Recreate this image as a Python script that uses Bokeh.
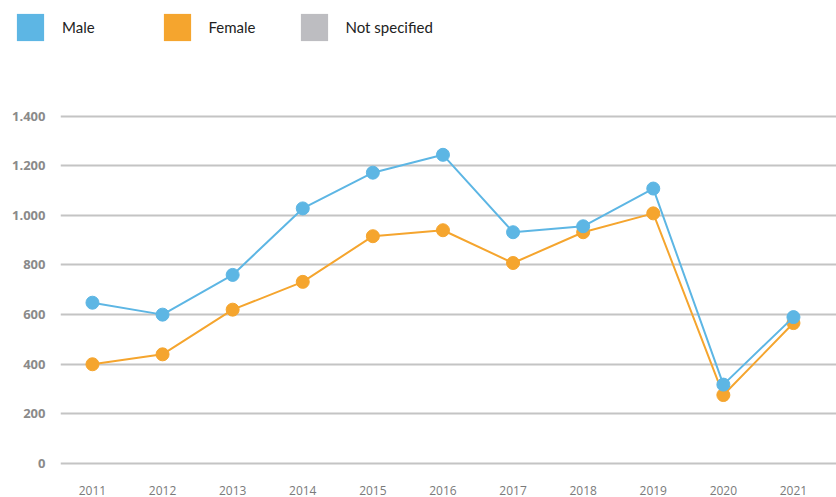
from bokeh.plotting import figure
from bokeh.models import Range1d, FixedTicker, Legend, LegendItem, ColumnDataSource
from bokeh.layouts import column
from bokeh.embed import file_html
from bokeh.resources import INLINE

years = [2011, 2012, 2013, 2014, 2015, 2016, 2017, 2018, 2019, 2020, 2021]
male = [648, 600, 760, 1028, 1172, 1244, 932, 956, 1108, 318, 590]
female = [400, 440, 620, 732, 916, 940, 808, 932, 1008, 276, 566]
y_ticks = [0, 200, 400, 600, 800, 1000, 1200, 1400]
y_tick_labels = ["0", "200", "400", "600", "800", "1.000", "1.200", "1.400"]
x_tick_labels = [str(y) for y in years]
series_names = ["Male", "Female", "Not specified"]

MALE_C = "#5db6e4"
FEMALE_C = "#f5a52e"
NS_C = "#bdbdc1"

# ---- legend strip ----
lf = figure(width=836, height=60, output_backend="svg", toolbar_location=None,
            x_range=Range1d(0, 1), y_range=Range1d(0, 1),
            x_axis_location=None, y_axis_location=None,
            min_border_left=0, min_border_right=0, min_border_top=0, min_border_bottom=0)
lf.frame_align = False
lf.grid.visible = False
lf.outline_line_color = None
lf.background_fill_color = "white"
lf.border_fill_color = "white"

swatches = []
for c in [MALE_C, FEMALE_C, NS_C]:
    r = lf.rect(x=[0], y=[0], width=0, height=0, fill_color=c, line_color=None)
    swatches.append(r)

legend_x = [13, 159.5, 296.5]
for name, r, lx in zip(series_names, swatches, legend_x):
    lg = Legend(items=[LegendItem(label=name, renderers=[r])], location=(lx, 16.5),
                orientation="horizontal", padding=0, margin=0, spacing=0,
                glyph_width=34, glyph_height=34, label_standoff=15,
                label_text_font="Lato", label_text_font_size="15px",
                label_text_baseline="alphabetic",
                label_text_color="#222222", border_line_color=None,
                background_fill_alpha=0)
    lf.add_layout(lg, "center")

# ---- main chart ----
p = figure(width=836, height=437, output_backend="svg", toolbar_location=None,
           x_range=Range1d(2010.544, 2021.614), y_range=Range1d(-16, 1624),
           min_border_left=60, min_border_right=0, min_border_top=0, min_border_bottom=27)
p.frame_align = False
p.outline_line_color = None
p.background_fill_color = "white"
p.border_fill_color = "white"

p.xgrid.visible = False
p.ygrid.ticker = FixedTicker(ticks=y_ticks)
p.ygrid.grid_line_color = "#c4c4c4"
p.ygrid.grid_line_width = 2

p.yaxis.ticker = FixedTicker(ticks=y_ticks)
p.yaxis.major_label_overrides = {t: l for t, l in zip(y_ticks, y_tick_labels)}
p.yaxis.axis_line_color = None
p.yaxis.major_tick_line_color = None
p.yaxis.minor_tick_line_color = None
p.yaxis.major_label_standoff = 9
p.yaxis.major_label_text_font = "Open Sans"
p.yaxis.major_label_text_font_style = "bold"
p.yaxis.major_label_text_font_size = "13px"
p.yaxis.major_label_text_color = "#8a8a8a"

p.xaxis.ticker = FixedTicker(ticks=years)
p.xaxis.major_label_overrides = {y: l for y, l in zip(years, x_tick_labels)}
p.xaxis.axis_line_color = None
p.xaxis.major_tick_line_color = None
p.xaxis.minor_tick_line_color = None
p.xaxis.major_label_standoff = 12
p.xaxis.major_label_text_font = "Open Sans"
p.xaxis.major_label_text_font_size = "12px"
p.xaxis.major_label_text_color = "#7a7a7a"

src = ColumnDataSource(dict(x=years, male=male, female=female))
p.line("x", "female", source=src, line_color=FEMALE_C, line_width=2)
p.scatter("x", "female", source=src, size=13, fill_color=FEMALE_C, line_color=FEMALE_C)
p.line("x", "male", source=src, line_color=MALE_C, line_width=2)
p.scatter("x", "male", source=src, size=13, fill_color=MALE_C, line_color=MALE_C)

layout = column(lf, p, spacing=0)
open("out.html", "w").write(file_html(layout, INLINE))
